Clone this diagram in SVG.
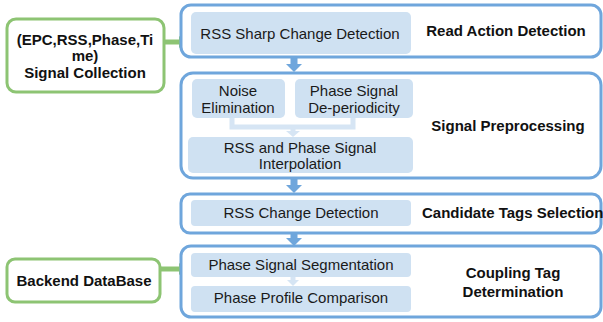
<svg xmlns="http://www.w3.org/2000/svg" width="603" height="322" viewBox="0 0 603 322">
<defs>
<style>
.cont{fill:#fff;stroke:#6fa6dc;stroke-width:3}
.inner{fill:#cfe1f2;stroke:none}
.gbox{fill:#fff;stroke:#8dc473;stroke-width:3}
.t{font-family:"Liberation Sans",Arial,sans-serif;font-size:15px;fill:#1a1a1a;text-anchor:middle}
.b{font-family:"Liberation Sans",Arial,sans-serif;font-size:15px;font-weight:bold;fill:#111;text-anchor:middle}
.lc{fill:none;stroke:#d6e5f4;stroke-width:5}
</style>
</defs>
<g id="connectors">
<line x1="164" y1="42" x2="180" y2="42" stroke="#8dc473" stroke-width="5"/>
<polygon points="179,36 187,42 179,48" fill="#8dc473"/>
<line x1="160" y1="269" x2="180" y2="269" stroke="#8dc473" stroke-width="5"/>
<polygon points="179,263 187,269 179,275" fill="#8dc473"/>
<rect x="290.5" y="57" width="7" height="8" fill="#6fa6dc"/>
<polygon points="286,64 302,64 294,72" fill="#6fa6dc"/>
<rect x="290.5" y="178" width="7" height="8" fill="#6fa6dc"/>
<polygon points="286,185 302,185 294,193" fill="#6fa6dc"/>
<rect x="290.5" y="233" width="7" height="6" fill="#6fa6dc"/>
<polygon points="286,238 302,238 294,246" fill="#6fa6dc"/>
</g>
<g id="read-action">
<rect class="cont" x="181" y="5" width="420" height="52" rx="10"/>
<text class="b" x="506" y="36">Read Action Detection</text>
</g>
<g id="preproc">
<rect class="cont" x="181" y="73" width="420" height="105" rx="12"/>
<text class="b" x="508" y="131">Signal Preprocessing</text>
</g>
<g id="candidate">
<rect class="cont" x="181" y="194" width="420" height="39" rx="9"/>
<text class="b" x="422" y="218" style="text-anchor:start">Candidate Tags Selection</text>
</g>
<g id="coupling">
<rect class="cont" x="181" y="246" width="420" height="71" rx="10"/>
<text class="b" x="513" y="278">Coupling Tag</text>
<text class="b" x="513" y="297">Determination</text>
</g>
<g id="signal-collection">
<rect class="gbox" x="7" y="19" width="157" height="73" rx="9"/>
<text class="b" x="85" y="45">(EPC,RSS,Phase,Ti</text>
<text class="b" x="85" y="61">me)</text>
<text class="b" x="85" y="78">Signal Collection</text>
</g>
<g id="backend">
<rect class="gbox" x="7" y="259" width="153" height="43" rx="8"/>
<text class="b" x="84" y="286">Backend DataBase</text>
</g>
<g id="rss-sharp">
<rect class="inner" x="191" y="12" width="220" height="42" rx="5"/>
<text class="t" x="300" y="39">RSS Sharp Change Detection</text>
</g>
<g id="inner-connectors">
<path class="lc" d="M232,118 V127 H353 V118"/>
<line class="lc" x1="293" y1="127" x2="293" y2="132"/>
<polygon points="286,131 300,131 293,137" fill="#d6e5f4"/>
<line class="lc" x1="293" y1="277" x2="293" y2="281"/>
<polygon points="287,280 299,280 293,286" fill="#d6e5f4"/>
</g>
<g id="noise">
<rect class="inner" x="192" y="79" width="93" height="39" rx="5"/>
<text class="t" x="238" y="96">Noise</text>
<text class="t" x="238" y="113">Elimination</text>
</g>
<g id="deperiod">
<rect class="inner" x="295" y="79" width="118" height="39" rx="5"/>
<text class="t" x="354" y="96">Phase Signal</text>
<text class="t" x="354" y="113">De-periodicity</text>
</g>
<g id="interp">
<rect class="inner" x="188" y="137" width="225" height="36" rx="5"/>
<text class="t" x="300" y="153">RSS and Phase Signal</text>
<text class="t" x="300" y="169">Interpolation</text>
</g>
<g id="rss-change">
<rect class="inner" x="191" y="200" width="220" height="26" rx="4"/>
<text class="t" x="301" y="218">RSS Change Detection</text>
</g>
<g id="segmentation">
<rect class="inner" x="191" y="253" width="220" height="24" rx="4"/>
<text class="t" x="301" y="270">Phase Signal Segmentation</text>
</g>
<g id="comparison">
<rect class="inner" x="191" y="286" width="220" height="26" rx="4"/>
<text class="t" x="301" y="303">Phase Profile Comparison</text>
</g>
</svg>
